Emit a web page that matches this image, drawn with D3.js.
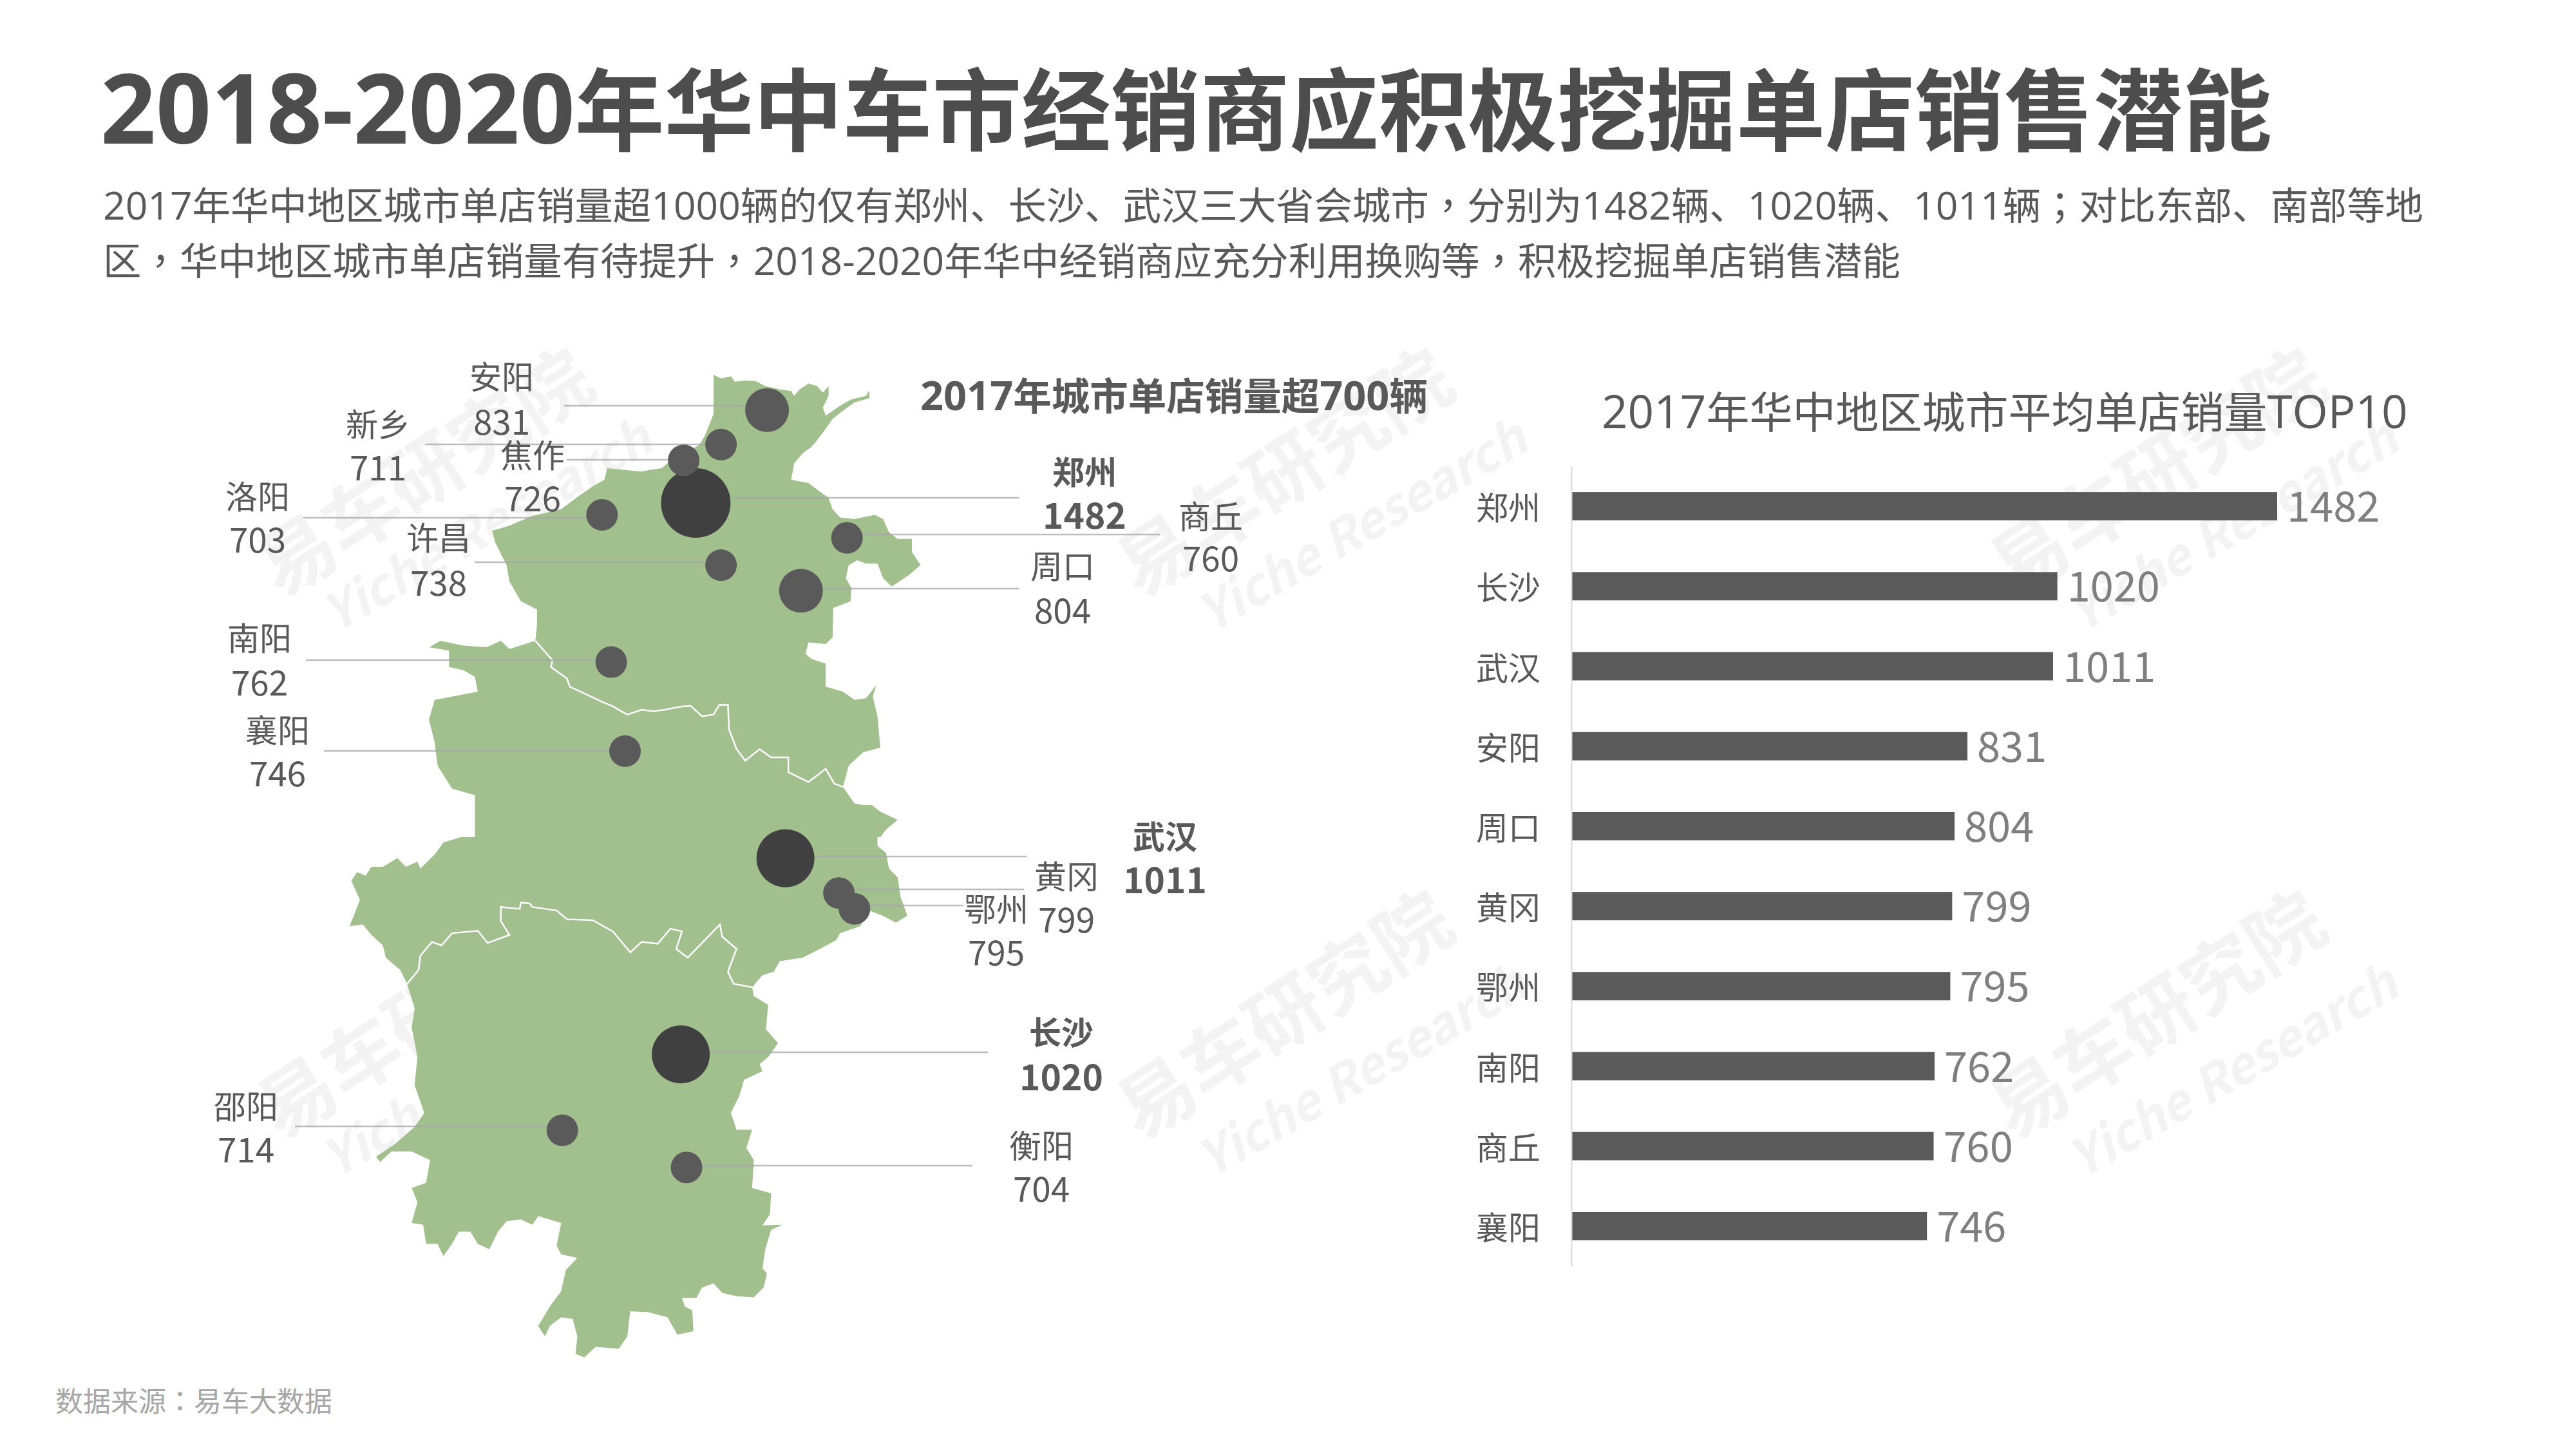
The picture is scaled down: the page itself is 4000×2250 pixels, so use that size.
<!DOCTYPE html>
<html><head><meta charset="utf-8">
<script src="https://cdn.jsdelivr.net/npm/d3@7/dist/d3.min.js"></script>
<style>html,body{margin:0;padding:0;background:#fff}svg{display:block}text{font-family:"Noto Sans CJK SC","Noto Sans",sans-serif}</style>
</head><body><svg id="c" width="4000" height="2250"></svg>
<script>
// ---- texts
const mainTitle = "2018-2020年华中车市经销商应积极挖掘单店销售潜能";
const subtitleLines = [
 "2017年华中地区城市单店销量超1000辆的仅有郑州、长沙、武汉三大省会城市，分别为1482辆、1020辆、1011辆；对比东部、南部等地",
 "区，华中地区城市单店销量有待提升，2018-2020年华中经销商应充分利用换购等，积极挖掘单店销售潜能"];
const mapTitle = "2017年城市单店销量超700辆";
const barTitle = "2017年华中地区城市平均单店销量TOP10";
const sourceNote = "数据来源：易车大数据";
const wmCn = "易车研究院", wmEn = "Yiche Research";
// ---- bar data
const topCities = ["郑州","长沙","武汉","安阳","周口","黄冈","鄂州","南阳","商丘","襄阳"];
const topValues = [1482,1020,1011,831,804,799,795,762,760,746];
// ---- bubble data
const mapCities = ["郑州","长沙","武汉","安阳","周口","黄冈","鄂州","南阳","商丘","襄阳","许昌","焦作","邵阳","新乡","衡阳","洛阳"];
const mapValues = [1482,1020,1011,831,804,799,795,762,760,746,738,726,714,711,704,703];
const boldCities = ["郑州","长沙","武汉"];
// location of each city on the map sheet (sheet units)
const cityLon = [874,848,1030,998,1057,1123,1150,727,1137,751,918,853,642,918,858,711];
const cityLat = [551,2229,1632,268,818,1738,1786,1035,657,1306,740,421,2460,373,2573,587];
// ---- map outline (sheet units; upper and lower sheet)
const outlineUpperEast = [[905,160],[918,172],[935,165],[942,182],[960,178],[978,180],[995,195],[1020,205],[1040,210],[1045,225],[1055,205],[1070,187],[1085,195],[1095,215],[1105,195],[1105,225],[1095,260],[1100,285],[1125,255],[1145,235],[1170,225],[1176,208],[1176,232],[1150,245],[1130,270],[1112,295],[1100,325],[1085,360],[1075,380],[1060,400],[1045,430],[1040,480],[1070,490],[1085,510],[1105,535],[1112,570],[1125,595],[1150,600],[1185,587],[1200,600],[1210,640],[1225,660],[1250,660],[1250,700],[1265,740],[1245,770],[1215,805],[1200,780],[1190,735],[1170,735],[1155,725],[1140,740],[1135,780],[1145,810],[1143,850],[1113,870],[1112,960],[1100,980],[1070,975],[1065,1010],[1075,1025],[1100,1040],[1100,1110],[1130,1125],[1150,1150],[1170,1145],[1188,1105],[1182,1140],[1190,1200],[1195,1295],[1165,1310],[1140,1350],[1130,1415],[1150,1465],[1165,1470],[1180,1470],[1195,1490],[1225,1515],[1205,1545],[1195,1568]];
const outlineLower = [[1190,0],[1190,25],[1205,45],[1210,90],[1225,115],[1230,170],[1242,225],[1222,245],[1200,225],[1175,210],[1160,255],[1125,275],[1118,295],[1090,320],[1060,345],[1020,355],[1010,385],[990,395],[972,430],[975,455],[1000,480],[996,550],[1017,590],[1000,630],[985,650],[990,670],[958,695],[950,740],[935,790],[945,838],[972,838],[962,890],[975,925],[972,1005],[1005,1020],[1003,1080],[990,1112],[1025,1110],[1005,1125],[995,1180],[990,1235],[998,1250],[992,1290],[975,1318],[945,1315],[920,1305],[905,1278],[885,1290],[875,1320],[850,1320],[855,1345],[868,1355],[870,1415],[842,1425],[825,1375],[790,1360],[760,1358],[755,1430],[740,1465],[700,1460],[680,1490],[665,1480],[668,1430],[660,1380],[640,1375],[620,1400],[612,1430],[600,1400],[620,1345],[640,1300],[648,1240],[668,1205],[640,1195],[632,1170],[640,1105],[600,1085],[590,1110],[570,1095],[545,1100],[530,1130],[515,1180],[495,1165],[482,1130],[462,1130],[450,1165],[435,1200],[425,1165],[405,1165],[400,1110],[380,1105],[390,1045],[380,1005],[405,990],[412,925],[380,900],[345,900],[325,930],[318,915],[350,880],[385,830],[402,790],[385,710],[390,630],[380,545],[385,490],[372,420],[360,380],[335,345],[330,310],[310,280],[295,250],[272,255],[290,180],[275,125],[285,100],[300,110],[310,85],[330,85],[355,60],[370,85],[390,70],[395,90],[420,50],[435,15],[465,0]];
const outlineUpperWest = [[490,1568],[490,1510],[490,1440],[450,1420],[425,1350],[420,1280],[410,1210],[420,1150],[495,1125],[490,1080],[470,1060],[445,1050],[445,1000],[410,990],[430,970],[470,985],[510,990],[535,970],[550,995],[595,970],[598,920],[598,875],[570,850],[550,790],[545,740],[525,670],[520,635],[550,620],[590,590],[640,570],[670,530],[695,500],[715,480],[720,445],[780,455],[795,450],[815,445],[835,415],[880,375],[890,345],[905,280]];
const borderHenanHubei = [[595,970],[610,1000],[625,1030],[622,1050],[650,1085],[655,1110],[680,1130],[710,1155],[730,1170],[755,1195],[780,1180],[800,1185],[820,1180],[850,1170],[865,1168],[885,1200],[905,1195],[915,1165],[930,1165],[932,1240],[945,1300],[960,1335],[985,1300],[1005,1325],[1035,1325],[1035,1370],[1070,1400],[1100,1360],[1115,1405],[1130,1415]];
const borderHubeiHunan = [[372,420],[392,380],[395,340],[415,300],[432,310],[450,275],[495,268],[512,303],[550,280],[535,240],[535,200],[568,205],[570,187],[585,190],[590,200],[632,210],[650,235],[695,238],[730,270],[740,290],[760,330],[780,300],[808,305],[830,262],[850,270],[840,320],[860,345],[916,250],[920,285],[945,320],[930,385],[940,420],[972,430]];

// ---- layout (pixels)
const labelLayout = {
 "安阳":{lx:779,ny:582,vy:652,lead:[876,1180,630]}, "新乡":{lx:587,ny:656,vy:723,lead:[660,1095,690]},
 "焦作":{lx:827,ny:704,vy:771,lead:[880,1041,714]}, "洛阳":{lx:400,ny:768,vy:835,lead:[471,916,804]},
 "郑州":{lx:1684,ny:730,vy:797,lead:[1135,1583,773]}, "商丘":{lx:1880,ny:799,vy:864,lead:[1335,1801,830]},
 "许昌":{lx:681,ny:832,vy:902,lead:[737,1099,873]}, "周口":{lx:1650,ny:876,vy:945,lead:[1279,1583,914]},
 "南阳":{lx:403,ny:988,vy:1057,lead:[475,928,1025]}, "襄阳":{lx:431,ny:1131,vy:1198,lead:[503,947,1166]},
 "武汉":{lx:1809,ny:1296,vy:1363,lead:[1265,1594,1330]}, "黄冈":{lx:1656,ny:1358,vy:1425,lead:[1327,1590,1381]},
 "鄂州":{lx:1547,ny:1409,vy:1476,lead:[1349,1496,1406]}, "长沙":{lx:1648,ny:1600,vy:1669,lead:[1102,1534,1634]},
 "邵阳":{lx:382,ny:1715,vy:1782,lead:[458,852,1749]}, "衡阳":{lx:1617,ny:1776,vy:1843,lead:[1090,1510,1810]}
};
const wmCnX = [655,1990,3345], wmEnX = [753,2112,3464], wmCnY = [727,1569], wmEnY = [811,1658];

const LATIN = '"Open Sans","Noto Sans CJK SC",sans-serif', CENTERED = '"Noto Sans CJK TC",sans-serif';
// writes a mixed string as tspans: Latin/digits slightly larger, full-width comma glyphs centred
function rich(sel, str, size, latinRatio){
  sel.attr("font-size",size);
  str.match(/[0-9A-Za-z\-]+|[，；：]|[^0-9A-Za-z\-，；：]+/g).forEach(run=>{
    const t = sel.append("tspan").text(run);
    if(/^[0-9A-Za-z\-]/.test(run)) t.attr("font-family",LATIN).attr("font-size",size*latinRatio);
    else if(/^[，；：]/.test(run)) t.attr("font-family",CENTERED);
  });
  return sel;
}

const svg = d3.select("#c");
svg.append("rect").attr("width",4000).attr("height",2250).attr("fill","#fff");

// watermarks
const wm = svg.append("g").attr("fill","#f3f3f3").attr("font-weight",700).attr("text-anchor","middle").attr("dominant-baseline","central");
wmCnY.forEach((ry,r)=>wmCnX.forEach((cx,c)=>{
  wm.append("text").text(wmCn).attr("font-size",118).attr("transform",`translate(${cx},${ry}) rotate(-33)`);
  wm.append("text").text(wmEn).attr("font-size",78).attr("font-style","italic").attr("font-family",'"Open Sans"').attr("transform",`translate(${wmEnX[c]},${wmEnY[r]}) rotate(-30)`);
}));

// title block
rich(svg.append("text").attr("x",156).attr("y",223).attr("font-weight",700).attr("fill","#4d4d4d"),mainTitle,138.7,1.085);
subtitleLines.forEach((s,i)=>rich(svg.append("text").attr("x",160).attr("y",341+i*86).attr("fill","#595959"),s,59.4,1.02));
rich(svg.append("text").attr("x",86).attr("y",2192).attr("fill","#a6a6a6"),sourceNote,43,1);

// map
const sheetX = d3.scaleLinear().domain([0,1568]).range([300,1700]);
const sheetYUp = d3.scaleLinear().domain([0,1568]).range([500,1300]);
const sheetYLow = d3.scaleLinear().domain([0,1568]).range([1300,2150]);
const up = p=>[sheetX(p[0]),sheetYUp(p[1])], low = p=>[sheetX(p[0]),sheetYLow(p[1])];
const outline = [...outlineUpperEast.map(up),...outlineLower.map(low),...outlineUpperWest.map(up)];
const line = d3.line();
const mapG = svg.append("g");
mapG.append("path").attr("d",line(outline)+"Z").attr("fill","#a2bf8e");
mapG.append("path").attr("d",line(borderHenanHubei.map(up))).attr("fill","none").attr("stroke","#fff").attr("stroke-width",2.5);
mapG.append("path").attr("d",line(borderHubeiHunan.map(low))).attr("fill","none").attr("stroke","#fff").attr("stroke-width",2.5);

const cities = mapCities.map((c,i)=>({name:c,value:mapValues[i],sx:cityLon[i],sy:cityLat[i],...labelLayout[c]}));
// leaders
mapG.selectAll(".lead").data(cities).join("line").attr("class","lead")
  .attr("x1",d=>d.lead[0]).attr("x2",d=>d.lead[1]).attr("y1",d=>d.lead[2]).attr("y2",d=>d.lead[2])
  .attr("stroke","#a6a6a6").attr("stroke-opacity",.75).attr("stroke-width",2.5);
// bubbles: size and colour classed by value
const rScale = d3.scaleThreshold().domain([800,1000,1400]).range([24.5,34,45,54]);
const colScale = d3.scaleThreshold().domain([1000]).range(["#5a5a5a","#404040"]);
mapG.selectAll(".bub").data(cities).join("circle").attr("class","bub")
  .attr("cx",d=>sheetX(d.sx)).attr("cy",d=>sheetYUp(d.sy)).attr("r",d=>rScale(d.value)).attr("fill",d=>colScale(d.value));
// labels
const lab = svg.append("g").attr("text-anchor","middle").attr("dominant-baseline","central").attr("fill","#595959");
lab.selectAll(".n").data(cities).join("text").attr("class","n").text(d=>d.name).attr("x",d=>d.lx).attr("y",d=>d.ny)
  .attr("font-size",50).attr("font-weight",d=>boldCities.includes(d.name)?700:400);
lab.selectAll(".v").data(cities).join("text").attr("class","v").text(d=>d.value).attr("x",d=>d.lx).attr("y",d=>d.vy)
  .attr("font-family",LATIN).attr("font-size",d=>boldCities.includes(d.name)?55:53).attr("font-weight",d=>boldCities.includes(d.name)?700:400);
rich(svg.append("text").attr("x",1429).attr("y",637).attr("font-weight",700).attr("fill","#595959"),mapTitle,59.5,1.06);

// bar chart
rich(svg.append("text").attr("x",2487).attr("y",665).attr("fill","#595959"),barTitle,67,1.06);
const y = d3.scaleBand().domain(topCities).range([724,1966]).paddingInner(0.646).paddingOuter(0.323);
const x = d3.scaleLinear().domain([0,1482]).range([2441,3536]);
const bars = svg.append("g");
bars.selectAll("rect").data(topCities).join("rect").attr("x",x(0)).attr("y",d=>y(d))
  .attr("width",(d,i)=>x(topValues[i])-x(0)).attr("height",y.bandwidth()).attr("fill","#5a5a5a");
bars.selectAll(".val").data(topCities).join("text").attr("class","val").text((d,i)=>topValues[i])
  .attr("x",(d,i)=>x(topValues[i])+15).attr("y",d=>y(d)+y.bandwidth()/2-4).attr("dominant-baseline","central")
  .attr("font-size",65).attr("font-family",LATIN).attr("fill","#7f7f7f");
const ax = svg.append("g").attr("transform",`translate(${x(0)-1},0)`).call(d3.axisLeft(y).tickSize(0).tickPadding(48));
ax.select(".domain").attr("stroke","#d9d9d9").attr("stroke-width",2);
ax.selectAll("text").attr("font-size",50).attr("fill","#595959").attr("font-family",'"Noto Sans CJK SC"').attr("dy","0.42em");
</script></body></html>
